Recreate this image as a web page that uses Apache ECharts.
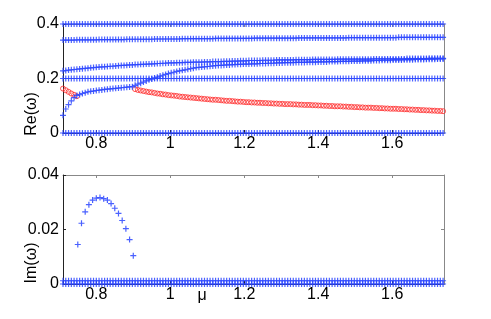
<!DOCTYPE html>
<html><head><meta charset="utf-8">
<script src="https://cdn.jsdelivr.net/npm/echarts@6/dist/echarts.min.js"></script>
<style>html,body{margin:0;padding:0;background:#fff}#c{width:491px;height:319px}</style>
</head><body><div id="c"></div>
<script>
// parameter grid (mu)
const mu = [
0.71,0.7175,0.725,0.7325,0.74,0.7475,0.755,0.7625,0.77,0.7775,
0.785,0.7925,0.8,0.8075,0.815,0.8225,0.83,0.8375,0.845,0.8525,
0.86,0.8675,0.875,0.8825,0.89,0.8975,0.905,0.9125,0.92,0.9275,
0.935,0.9425,0.95,0.9575,0.965,0.9725,0.98,0.9875,0.995,1.0025,
1.01,1.0175,1.025,1.0325,1.04,1.0475,1.055,1.0625,1.07,1.0775,
1.085,1.0925,1.1,1.1075,1.115,1.1225,1.13,1.1375,1.145,1.1525,
1.16,1.1675,1.175,1.1825,1.19,1.1975,1.205,1.2125,1.22,1.2275,
1.235,1.2425,1.25,1.2575,1.265,1.2725,1.28,1.2875,1.295,1.3025,
1.31,1.3175,1.325,1.3325,1.34,1.3475,1.355,1.3625,1.37,1.3775,
1.385,1.3925,1.4,1.4075,1.415,1.4225,1.43,1.4375,1.445,1.4525,
1.46,1.4675,1.475,1.4825,1.49,1.4975,1.505,1.5125,1.52,1.5275,
1.535,1.5425,1.55,1.5575,1.565,1.5725,1.58,1.5875,1.595,1.6025,
1.61,1.6175,1.625,1.6325,1.64,1.6475,1.655,1.6625,1.67,1.6775,
1.685,1.6925,1.7,1.7075,1.715,1.7225,1.73,1.7375];

// Re(omega) branches
const reZero = [
0,0,0,0,0,0,0,0,0,0, 0,0,0,0,0,0,0,0,0,0, 0,0,0,0,0,0,0,0,0,0,
0,0,0,0,0,0,0,0,0,0, 0,0,0,0,0,0,0,0,0,0, 0,0,0,0,0,0,0,0,0,0,
0,0,0,0,0,0,0,0,0,0, 0,0,0,0,0,0,0,0,0,0, 0,0,0,0,0,0,0,0,0,0,
0,0,0,0,0,0,0,0,0,0, 0,0,0,0,0,0,0,0,0,0, 0,0,0,0,0,0,0,0,0,0,
0,0,0,0,0,0,0,0,0,0, 0,0,0,0,0,0,0,0];
const reTop = [
0.4,0.4,0.4,0.4,0.4,0.4,0.4,0.4,0.4,0.4, 0.4,0.4,0.4,0.4,0.4,0.4,0.4,0.4,0.4,0.4,
0.4,0.4,0.4,0.4,0.4,0.4,0.4,0.4,0.4,0.4, 0.4,0.4,0.4,0.4,0.4,0.4,0.4,0.4,0.4,0.4,
0.4,0.4,0.4,0.4,0.4,0.4,0.4,0.4,0.4,0.4, 0.4,0.4,0.4,0.4,0.4,0.4,0.4,0.4,0.4,0.4,
0.4,0.4,0.4,0.4,0.4,0.4,0.4,0.4,0.4,0.4, 0.4,0.4,0.4,0.4,0.4,0.4,0.4,0.4,0.4,0.4,
0.4,0.4,0.4,0.4,0.4,0.4,0.4,0.4,0.4,0.4, 0.4,0.4,0.4,0.4,0.4,0.4,0.4,0.4,0.4,0.4,
0.4,0.4,0.4,0.4,0.4,0.4,0.4,0.4,0.4,0.4, 0.4,0.4,0.4,0.4,0.4,0.4,0.4,0.4,0.4,0.4,
0.4,0.4,0.4,0.4,0.4,0.4,0.4,0.4,0.4,0.4, 0.4,0.4,0.4,0.4,0.4,0.4,0.4,0.4];
const reMid = [
0.2,0.2,0.2,0.2,0.2,0.2,0.2,0.2,0.2,0.2, 0.2,0.2,0.2,0.2,0.2,0.2,0.2,0.2,0.2,0.2,
0.2,0.2,0.2,0.2,0.2,0.2,0.2,0.2,0.2,0.2, 0.2,0.2,0.2,0.2,0.2,0.2,0.2,0.2,0.2,0.2,
0.2,0.2,0.2,0.2,0.2,0.2,0.2,0.2,0.2,0.2, 0.2,0.2,0.2,0.2,0.2,0.2,0.2,0.2,0.2,0.2,
0.2,0.2,0.2,0.2,0.2,0.2,0.2,0.2,0.2,0.2, 0.2,0.2,0.2,0.2,0.2,0.2,0.2,0.2,0.2,0.2,
0.2,0.2,0.2,0.2,0.2,0.2,0.2,0.2,0.2,0.2, 0.2,0.2,0.2,0.2,0.2,0.2,0.2,0.2,0.2,0.2,
0.2,0.2,0.2,0.2,0.2,0.2,0.2,0.2,0.2,0.2, 0.2,0.2,0.2,0.2,0.2,0.2,0.2,0.2,0.2,0.2,
0.2,0.2,0.2,0.2,0.2,0.2,0.2,0.2,0.2,0.2, 0.2,0.2,0.2,0.2,0.2,0.2,0.2,0.2];
const reUpper = [
0.341,0.341,0.341,0.341,0.341,0.342,0.342,0.342,0.342,0.342,
0.342,0.342,0.342,0.343,0.343,0.343,0.343,0.343,0.343,0.343,
0.343,0.343,0.343,0.344,0.344,0.344,0.344,0.344,0.344,0.344,
0.344,0.344,0.344,0.345,0.345,0.345,0.345,0.345,0.345,0.345,
0.345,0.345,0.345,0.346,0.346,0.346,0.346,0.346,0.346,0.346,
0.346,0.346,0.346,0.346,0.346,0.347,0.347,0.347,0.347,0.347,
0.347,0.347,0.347,0.347,0.347,0.347,0.347,0.347,0.347,0.348,
0.348,0.348,0.348,0.348,0.348,0.348,0.348,0.348,0.348,0.348,
0.348,0.348,0.348,0.348,0.348,0.349,0.349,0.349,0.349,0.349,
0.349,0.349,0.349,0.349,0.349,0.349,0.349,0.349,0.349,0.349,
0.349,0.349,0.349,0.350,0.350,0.350,0.350,0.350,0.350,0.350,
0.350,0.350,0.350,0.350,0.350,0.350,0.350,0.350,0.350,0.350,
0.350,0.351,0.351,0.351,0.351,0.351,0.351,0.351,0.351,0.351,
0.351,0.351,0.351,0.351,0.351,0.351,0.351,0.351];
const reRising = [
0.228,0.229,0.231,0.232,0.233,0.234,0.235,0.236,0.237,0.238,
0.239,0.240,0.241,0.242,0.243,0.243,0.244,0.245,0.245,0.246,
0.247,0.248,0.248,0.249,0.250,0.250,0.251,0.251,0.252,0.252,
0.253,0.253,0.254,0.254,0.255,0.255,0.256,0.256,0.257,0.257,
0.257,0.258,0.258,0.258,0.259,0.259,0.259,0.260,0.260,0.260,
0.260,0.261,0.261,0.261,0.262,0.262,0.262,0.262,0.263,0.263,
0.263,0.264,0.264,0.264,0.265,0.265,0.265,0.266,0.266,0.266,
0.266,0.266,0.267,0.267,0.267,0.267,0.267,0.268,0.268,0.268,
0.268,0.268,0.268,0.268,0.269,0.269,0.269,0.269,0.269,0.269,
0.270,0.270,0.270,0.270,0.270,0.270,0.270,0.270,0.270,0.271,
0.271,0.271,0.271,0.271,0.271,0.271,0.271,0.271,0.271,0.271,
0.271,0.271,0.272,0.272,0.272,0.272,0.272,0.272,0.272,0.272,
0.272,0.272,0.272,0.272,0.273,0.273,0.273,0.273,0.273,0.273,
0.273,0.273,0.274,0.274,0.274,0.274,0.274,0.274];
const reBranch = [
0.065,0.088,0.104,0.118,0.130,0.138,0.141,0.145,0.148,0.151,
0.153,0.154,0.156,0.157,0.158,0.160,0.161,0.162,0.163,0.164,
0.165,0.166,0.167,0.168,0.169,0.170,0.175,0.179,0.183,0.187,
0.191,0.195,0.198,0.202,0.205,0.209,0.212,0.215,0.218,0.221,
0.223,0.226,0.228,0.230,0.232,0.234,0.236,0.238,0.240,0.241,
0.242,0.243,0.244,0.245,0.246,0.247,0.248,0.248,0.249,0.250,
0.250,0.251,0.251,0.252,0.252,0.253,0.253,0.253,0.254,0.254,
0.254,0.255,0.255,0.255,0.256,0.256,0.256,0.257,0.257,0.257,
0.258,0.258,0.258,0.258,0.259,0.259,0.259,0.259,0.260,0.260,
0.260,0.260,0.261,0.261,0.261,0.261,0.262,0.262,0.262,0.262,
0.263,0.263,0.263,0.263,0.264,0.264,0.264,0.264,0.265,0.265,
0.265,0.265,0.266,0.266,0.266,0.267,0.267,0.267,0.267,0.268,
0.268,0.268,0.268,0.269,0.269,0.269,0.269,0.270,0.270,0.270,
0.270,0.271,0.271,0.271,0.271,0.272,0.272,0.272];
const reRed = [
0.163,0.157,0.151,0.145,0.140,0.135,null,null,null,null,
null,null,null,null,null,null,null,null,null,null,
null,null,null,null,null,null,0.161,0.158,0.156,0.154,
0.152,0.150,0.149,0.147,0.145,0.144,0.142,0.141,0.139,0.138,
0.137,0.136,0.134,0.133,0.132,0.131,0.130,0.129,0.128,0.127,
0.126,0.125,0.124,0.123,0.122,0.122,0.121,0.120,0.119,0.118,
0.118,0.117,0.116,0.115,0.115,0.114,0.113,0.113,0.112,0.112,
0.111,0.111,0.110,0.110,0.109,0.109,0.108,0.108,0.107,0.107,
0.106,0.106,0.106,0.105,0.105,0.104,0.104,0.103,0.103,0.103,
0.102,0.102,0.101,0.101,0.100,0.100,0.099,0.099,0.098,0.098,
0.098,0.097,0.097,0.096,0.096,0.095,0.095,0.094,0.094,0.093,
0.093,0.093,0.092,0.092,0.091,0.091,0.090,0.090,0.089,0.089,
0.089,0.088,0.088,0.087,0.087,0.086,0.086,0.085,0.085,0.084,
0.084,0.083,0.083,0.082,0.082,0.081,0.081,0.080];

// Im(omega)
const imLow = [
0.0012,0.0012,0.0012,0.0012,0.0012,0.0012,0.0012,0.0012,0.0012,0.0012,
0.0012,0.0012,0.0012,0.0012,0.0012,0.0012,0.0012,0.0012,0.0012,0.0012,
0.0012,0.0012,0.0012,0.0012,0.0012,0.0012,0.0012,0.0012,0.0012,0.0012,
0.0012,0.0012,0.0012,0.0012,0.0012,0.0012,0.0012,0.0012,0.0012,0.0012,
0.0012,0.0012,0.0012,0.0012,0.0012,0.0012,0.0012,0.0012,0.0012,0.0012,
0.0012,0.0012,0.0012,0.0012,0.0012,0.0012,0.0012,0.0012,0.0012,0.0012,
0.0012,0.0012,0.0012,0.0012,0.0012,0.0012,0.0012,0.0012,0.0012,0.0012,
0.0012,0.0012,0.0012,0.0012,0.0012,0.0012,0.0012,0.0012,0.0012,0.0012,
0.0012,0.0012,0.0012,0.0012,0.0012,0.0012,0.0012,0.0012,0.0012,0.0012,
0.0012,0.0012,0.0012,0.0012,0.0012,0.0012,0.0012,0.0012,0.0012,0.0012,
0.0012,0.0012,0.0012,0.0012,0.0012,0.0012,0.0012,0.0012,0.0012,0.0012,
0.0012,0.0012,0.0012,0.0012,0.0012,0.0012,0.0012,0.0012,0.0012,0.0012,
0.0012,0.0012,0.0012,0.0012,0.0012,0.0012,0.0012,0.0012,0.0012,0.0012,
0.0012,0.0012,0.0012,0.0012,0.0012,0.0012,0.0012,0.0012];
const imZero = reZero;
const humpMu = [0.75,0.76,0.77,0.78,0.79,0.80,0.81,0.82,0.83,0.84,0.85,0.86,0.87,0.88,0.89,0.90];
const humpIm = [0.0145,0.0223,0.0265,0.0291,0.0308,0.0315,0.0317,0.0313,0.0308,0.0295,0.0278,0.0259,0.0233,0.0203,0.0163,0.0104];

const xTicks = [0.8,1,1.2,1.4,1.6];

function pts(xs, vals){ const out=[]; for(let i=0;i<xs.length;i++){ if(vals[i]!=null) out.push([xs[i],vals[i]]); } return out; }

const PLUS = 'path://M4,0h2v4h4v2h-4v4h-2v-4h-4v-2h4z';
const BLUE = '#2a45ff';
const FONT = 'Liberation Sans';

function blueSeries(xi, yi, data){
  return {type:'scatter', xAxisIndex:xi, yAxisIndex:yi, data:data, symbol:PLUS, symbolSize:6,
    itemStyle:{color:BLUE, opacity:0.85}, clip:false, silent:true, animation:false};
}
function xAx(g, pos, main){
  return {gridIndex:g, type:'value', min:0.71, max:1.74, position:pos,
    axisLine:{show:true, onZero:false, lineStyle:{color: main?'#222':'#888', width:1}},
    axisTick:{show:true, inside:true, length:3, customValues:xTicks, lineStyle:{color: main?'#222':'#888'}},
    axisLabel:{show:main, customValues:xTicks, fontSize:16, fontFamily:FONT, color:'#000', margin:3},
    splitLine:{show:false}};
}
function yAx(g, pos, main, max, interval){
  return {gridIndex:g, type:'value', min:0, max:max, interval:interval, position:pos,
    axisLine:{show:true, onZero:false, lineStyle:{color: main?'#222':'#888', width:1}},
    axisTick:{show:true, inside:true, length:3, lineStyle:{color: main?'#222':'#888'}},
    axisLabel:{show:main, fontSize:16, fontFamily:FONT, color:'#000', margin:4},
    splitLine:{show:false}};
}

const chart = echarts.init(document.getElementById('c'), null, {renderer:'canvas'});
chart.setOption({
  animation:false,
  backgroundColor:'#fff',
  grid:[
    {left:63, top:24, width:381, height:109},
    {left:63, top:175, width:381, height:109}
  ],
  xAxis:[xAx(0,'bottom',true), xAx(0,'top',false), xAx(1,'bottom',true), xAx(1,'top',false)],
  yAxis:[yAx(0,'left',true,0.4,0.2), yAx(0,'right',false,0.4,0.2), yAx(1,'left',true,0.04,0.02), yAx(1,'right',false,0.04,0.02)],
  series:[
    {type:'scatter', xAxisIndex:0, yAxisIndex:0, data:pts(mu, reRed), symbol:'circle', symbolSize:5,
      itemStyle:{color:'rgba(0,0,0,0)', borderColor:'#ff2a2a', borderWidth:1}, clip:false, silent:true},
    blueSeries(0,0,pts(mu, reZero)),
    blueSeries(0,0,pts(mu, reTop)),
    blueSeries(0,0,pts(mu, reMid)),
    blueSeries(0,0,pts(mu, reUpper)),
    blueSeries(0,0,pts(mu, reRising)),
    blueSeries(0,0,pts(mu, reBranch)),
    blueSeries(2,2,pts(mu, imZero)),
    blueSeries(2,2,pts(mu, imLow)),
    blueSeries(2,2,pts(humpMu, humpIm))
  ],
  graphic:[
    {type:'text', x:32, y:114, rotation:Math.PI/2, style:{text:'Re(ω)', font:'16px "Liberation Sans"', fill:'#000', textAlign:'center', textVerticalAlign:'middle'}},
    {type:'text', x:32, y:263, rotation:Math.PI/2, style:{text:'Im(ω)', font:'16px "Liberation Sans"', fill:'#000', textAlign:'center', textVerticalAlign:'middle'}},
    {type:'text', x:202, y:296, style:{text:'μ', font:'16px "Liberation Sans"', fill:'#000', textAlign:'center', textVerticalAlign:'middle'}}
  ]
});
</script></body></html>
